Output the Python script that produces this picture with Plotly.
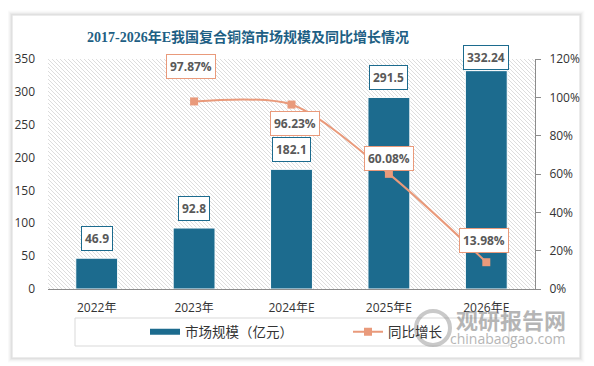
import base64
import plotly.graph_objects as go

# ---------------- data ----------------
categories = ["2022年", "2023年", "2024年E", "2025年E", "2026年E"]
market_size = [46.9, 92.8, 182.1, 291.5, 332.24]          # 亿元
growth_rate = [None, 97.87, 96.23, 60.08, 13.98]           # %
left_ticks = [0, 50, 100, 150, 200, 250, 300, 350]
right_ticks = [0, 20, 40, 60, 80, 100, 120]
right_tick_labels = ["0%", "20%", "40%", "60%", "80%", "100%", "120%"]
title_text = "2017-2026年E我国复合铜箔市场规模及同比增长情况"
bar_name = "市场规模（亿元）"
line_name = "同比增长"

# ---------------- style ----------------
BAR = "#1c6b8e"
LINE = "#e99a7b"
TXT = "#333333"
LBL = "#595959"
FONT = "Open Sans, Noto Sans CJK SC, sans-serif"
bar_label_shift = [7, 7, 7, 7, 1]
pct_label_shift = [None, (-3, 35), (3, -19), (0, 15), (-2, 22)]

fig = go.Figure()

fig.add_trace(go.Bar(
    x=categories, y=market_size, name=bar_name, showlegend=False,
    marker=dict(color=BAR, line=dict(color="white", width=1)),
    yaxis="y",
))
# legend swatch for the bar series (wide flat bar as in the reference)
fig.add_trace(go.Scatter(
    x=[None], y=[None], mode="lines", name=bar_name,
    line=dict(color=BAR, width=6), yaxis="y",
))
fig.add_trace(go.Scatter(
    x=categories, y=growth_rate, name=line_name, mode="lines+markers",
    line=dict(color=LINE, width=2, shape="spline", smoothing=0.8),
    marker=dict(symbol="square", size=8, color=LINE),
    yaxis="y2", connectgaps=False,
))

annotations = []
for c, v, s in zip(categories, market_size, bar_label_shift):
    annotations.append(dict(
        x=c, y=v, xref="x", yref="y", yanchor="bottom", yshift=s,
        text=f"<b>{v:g}</b>", showarrow=False,
        font=dict(family=FONT, size=12, color=LBL),
        bgcolor="white", bordercolor=BAR, borderwidth=1, borderpad=3,
    ))
for c, g, sh in zip(categories, growth_rate, pct_label_shift):
    if g is None:
        continue
    annotations.append(dict(
        x=c, y=g, xref="x", yref="y2", xshift=sh[0], yshift=sh[1],
        xanchor="center", yanchor="middle",
        text=f"<b>{g:.2f}%</b>", showarrow=False,
        font=dict(family=FONT, size=12, color=LBL),
        bgcolor="white", bordercolor=LINE, borderwidth=1, borderpad=3,
    ))


def px_x(p):
    return (p - 48) / 487


def px_y(p):
    return (289 - p) / 230


annotations.append(dict(
    x=px_x(248), y=px_y(37), xref="paper", yref="paper", showarrow=False,
    xanchor="center", yanchor="middle",
    text=f"<b>{title_text}</b>",
    font=dict(family="Liberation Serif, Noto Sans CJK SC, serif", size=14, color="#1e5f84"),
))
# watermark
annotations.append(dict(
    x=px_x(511), y=px_y(319), xref="paper", yref="paper", showarrow=False,
    xanchor="center", yanchor="middle",
    text="<b>观研报告网</b>", opacity=0.55,
    font=dict(family="Noto Sans CJK SC", size=22, color="#7a7a7a"),
))
annotations.append(dict(
    x=px_x(508), y=px_y(338), xref="paper", yref="paper", showarrow=False,
    xanchor="center", yanchor="middle",
    text="chinabaogao.com", opacity=0.55,
    font=dict(family="Open Sans", size=14, color="#7a7a7a"),
))

# hatch background of the plot area
svg = ('<svg xmlns="http://www.w3.org/2000/svg" width="487" height="230">'
       '<defs><pattern id="h" width="4" height="4" patternUnits="userSpaceOnUse">'
       '<path d="M-1,-1 L5,5 M3,-1 L5,1 M-1,3 L1,5" stroke="#d4d4d4" stroke-width="0.8"/>'
       '</pattern></defs><rect width="100%" height="100%" fill="url(#h)"/></svg>')
img_src = "data:image/svg+xml;base64," + base64.b64encode(svg.encode()).decode()

shapes = []
# card shadow (outline frames only)
for i, a in enumerate([0.10, 0.07, 0.045, 0.025, 0.012]):
    d = i + 1
    shapes.append(dict(
        type="rect", xref="paper", yref="paper", layer="below",
        x0=px_x(12 - d + 1), x1=px_x(578 + d + 1), y0=px_y(356 + d + 1), y1=px_y(15 - d + 1),
        line=dict(color=f"rgba(0,0,0,{a})", width=1.5), fillcolor="rgba(0,0,0,0)",
    ))
# legend box
shapes.append(dict(
    type="rect", xref="paper", yref="paper",
    x0=px_x(75), x1=px_x(509), y0=px_y(346), y1=px_y(318),
    line=dict(color="#d9d9d9", width=1), fillcolor="rgba(0,0,0,0)",
))
# watermark logo ring
shapes.append(dict(
    type="circle", xref="paper", yref="paper", opacity=0.45,
    x0=px_x(416), x1=px_x(450), y0=px_y(345), y1=px_y(311),
    line=dict(color="#8a8a8a", width=4), fillcolor="rgba(0,0,0,0)",
))

fig.update_layout(
    width=586, height=358,
    margin=dict(l=40, r=59, t=51, b=77, autoexpand=False),
    paper_bgcolor="white", plot_bgcolor="rgba(0,0,0,0)",
    font=dict(family=FONT, size=12, color=TXT),
    bargap=0.57,
    showlegend=True,
    legend=dict(
        orientation="h", x=px_x(145), xanchor="left", y=px_y(332), yanchor="middle",
        font=dict(family=FONT, size=13.5, color=TXT), bgcolor="rgba(0,0,0,0)",
        entrywidth=158, itemwidth=30, traceorder="normal",
    ),
    xaxis=dict(
        type="category", showline=True, linecolor="#8c8c8c", linewidth=1,
        ticks="", showgrid=False, zeroline=False, ticklabelstandoff=8,
        tickfont=dict(size=12, color=TXT),
    ),
    yaxis=dict(
        range=[0, 350], tickvals=left_ticks, showgrid=False, zeroline=False,
        showline=False, ticks="", ticklabelstandoff=12,
        tickfont=dict(size=12, color=TXT),
    ),
    yaxis2=dict(
        range=[0, 120], tickvals=right_ticks, ticktext=right_tick_labels,
        overlaying="y", side="right", showgrid=False, zeroline=False,
        showline=True, linecolor="#8c8c8c", linewidth=1,
        ticks="outside", ticklen=5, tickcolor="#8c8c8c", ticklabelstandoff=6,
        tickfont=dict(size=12, color=TXT),
    ),
    annotations=annotations,
    shapes=shapes,
    images=[dict(
        source=img_src, xref="paper", yref="paper", x=0, y=1,
        sizex=1, sizey=1, sizing="stretch", xanchor="left", yanchor="top",
        layer="below",
    )],
)

fig.write_html("out.html")
